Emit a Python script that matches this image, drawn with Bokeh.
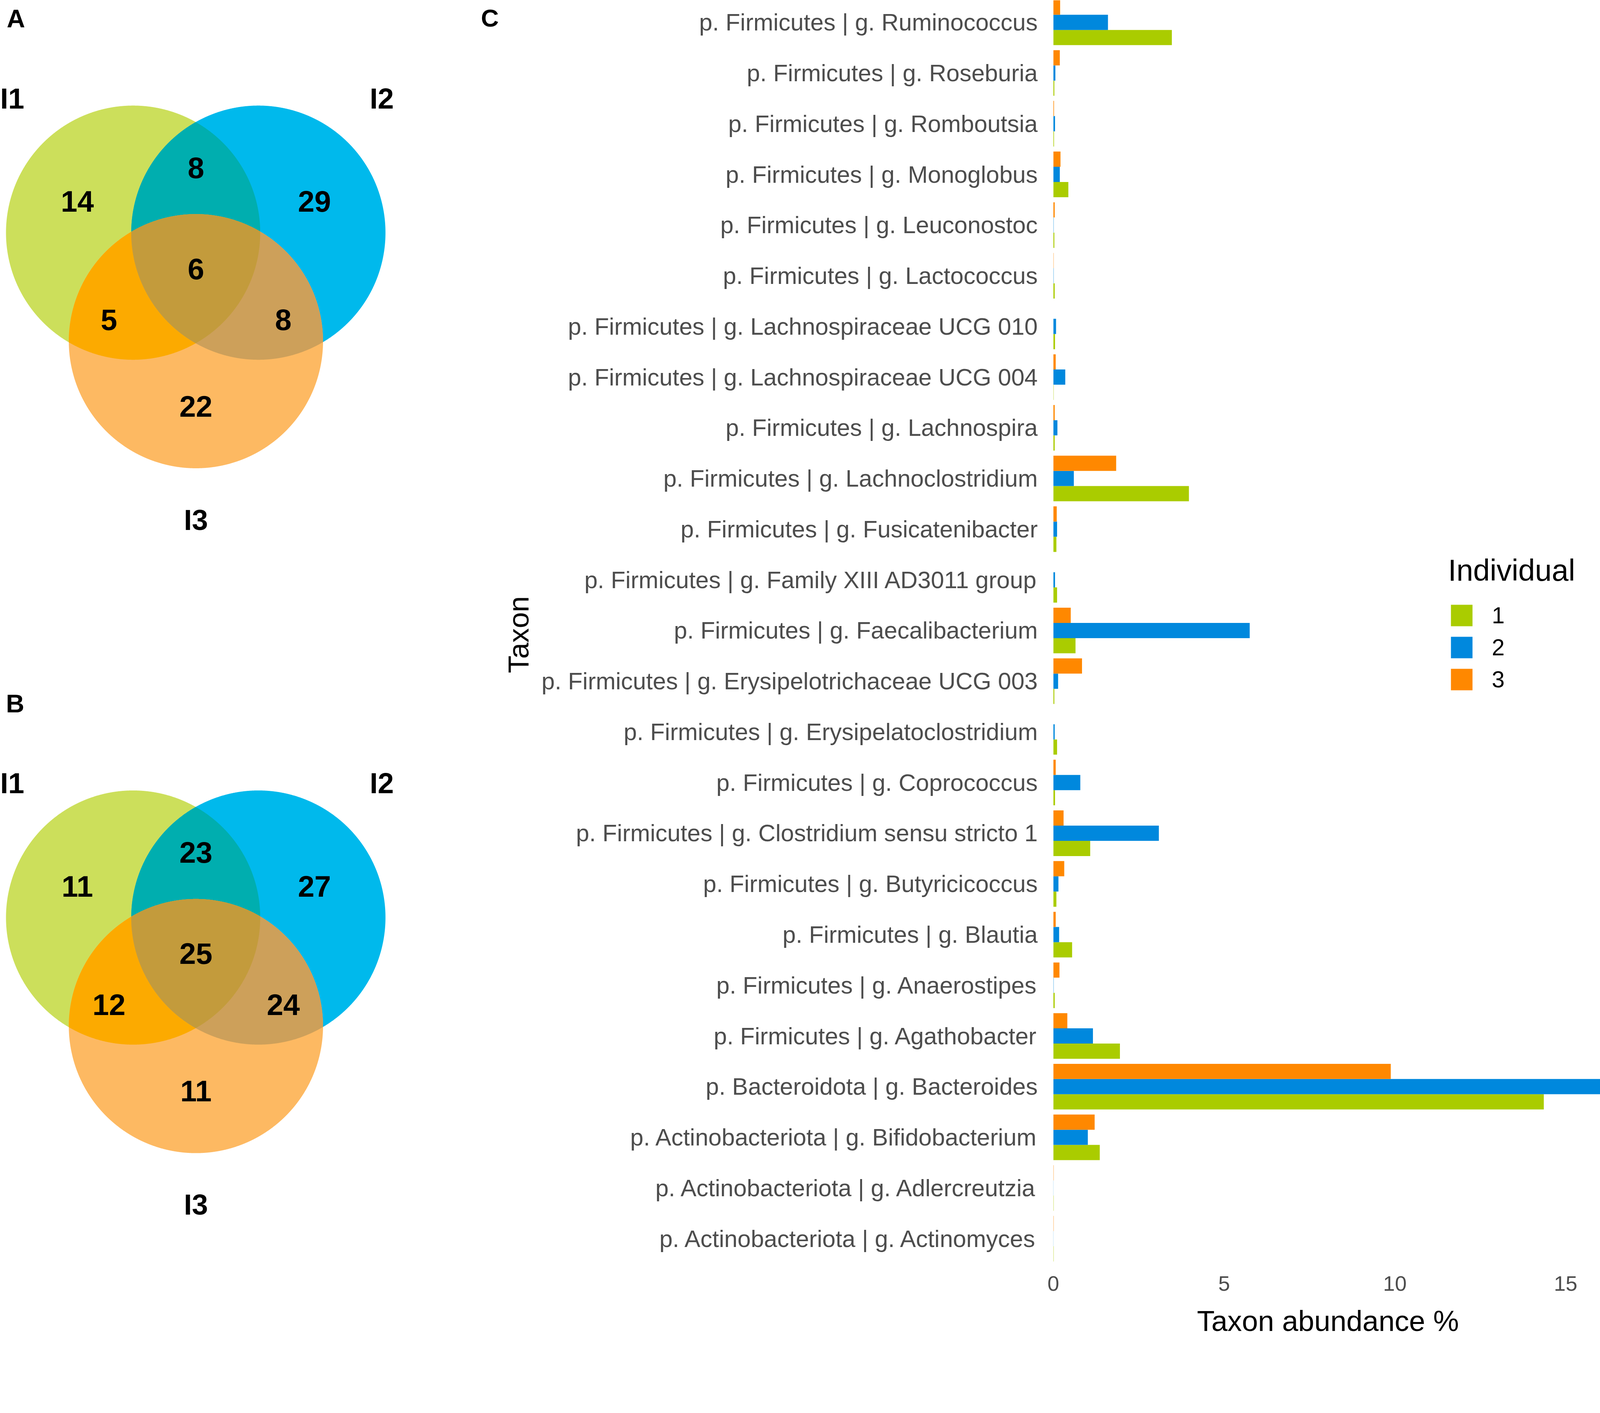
import numpy as np
from bokeh.plotting import figure
from bokeh.models import Range1d, FixedTicker, Legend, LegendItem
from bokeh.layouts import row
from bokeh.embed import file_html
from bokeh.resources import INLINE
from bokeh.core.properties import value

# ---------------- data ----------------
venn_sets = ["I1", "I2", "I3"]
# regions: I1 only, I2 only, I3 only, I1&I2, I1&I3, I2&I3, I1&I2&I3
venn_a_counts = [14, 29, 22, 8, 5, 8, 6]
venn_b_counts = [11, 27, 11, 23, 12, 24, 25]

taxa = [
    "p. Firmicutes | g. Ruminococcus",
    "p. Firmicutes | g. Roseburia",
    "p. Firmicutes | g. Romboutsia",
    "p. Firmicutes | g. Monoglobus",
    "p. Firmicutes | g. Leuconostoc",
    "p. Firmicutes | g. Lactococcus",
    "p. Firmicutes | g. Lachnospiraceae UCG 010",
    "p. Firmicutes | g. Lachnospiraceae UCG 004",
    "p. Firmicutes | g. Lachnospira",
    "p. Firmicutes | g. Lachnoclostridium",
    "p. Firmicutes | g. Fusicatenibacter",
    "p. Firmicutes | g. Family XIII AD3011 group",
    "p. Firmicutes | g. Faecalibacterium",
    "p. Firmicutes | g. Erysipelotrichaceae UCG 003",
    "p. Firmicutes | g. Erysipelatoclostridium",
    "p. Firmicutes | g. Coprococcus",
    "p. Firmicutes | g. Clostridium sensu stricto 1",
    "p. Firmicutes | g. Butyricicoccus",
    "p. Firmicutes | g. Blautia",
    "p. Firmicutes | g. Anaerostipes",
    "p. Firmicutes | g. Agathobacter",
    "p. Bacteroidota | g. Bacteroides",
    "p. Actinobacteriota | g. Bifidobacterium",
    "p. Actinobacteriota | g. Adlercreutzia",
    "p. Actinobacteriota | g. Actinomyces",
]
individual_1 = [3.47, 0.03, 0.02, 0.44, 0.03, 0.04, 0.05, 0.01, 0.04, 3.97, 0.09, 0.11, 0.65,
                0.03, 0.11, 0.05, 1.08, 0.09, 0.55, 0.04, 1.95, 14.36, 1.36, 0.01, 0.01]
individual_2 = [1.60, 0.06, 0.05, 0.19, 0.01, 0.01, 0.08, 0.35, 0.12, 0.60, 0.11, 0.05, 5.75,
                0.14, 0.04, 0.79, 3.09, 0.15, 0.17, 0.01, 1.16, 16.10, 1.01, 0.005, 0.005]
individual_3 = [0.20, 0.19, 0.02, 0.21, 0.04, 0.01, 0.0, 0.07, 0.04, 1.84, 0.10, 0.0, 0.51,
                0.84, 0.0, 0.07, 0.30, 0.32, 0.07, 0.18, 0.41, 9.88, 1.21, 0.01, 0.01]
individual_labels = ["1", "2", "3"]
x_ticks = [0, 5, 10, 15]

FONT = "Liberation Sans"
BAR_COLORS = ["#AACC00", "#0088DD", "#FF8800"]

# page scale (css px per reference px)
K = 0.9515


def px(v):
    return "%dpx" % round(v * K)


FRAME_H = 3249        # plot frame height shared by both panels
BOTTOM = 198          # bottom border (x axis of the bar chart)
H = FRAME_H + BOTTOM

# ---------------- Venn figure (data coords = reference pixels) ----------------
W1 = 1281
venn = figure(width=W1, height=H, x_range=Range1d(8 / K, (8 + W1) / K),
              y_range=Range1d((8 + FRAME_H) / K, 8 / K),
              output_backend="svg", toolbar_location=None,
              min_border_left=0, min_border_right=0, min_border_top=0, min_border_bottom=BOTTOM,
              x_axis_location=None, y_axis_location=None)
venn.grid.visible = False
venn.outline_line_color = None
venn.background_fill_color = "white"

R = 342
centers = [(366, 634), (703, 634), (535, 926)]
region_colors = {
    (0,): "#CCDF5B", (1,): "#00B9EC", (2,): "#FDB962",
    (0, 1): "#00AEAF", (0, 2): "#FCAA00", (1, 2): "#CDA05A", (0, 1, 2): "#C39B3C",
}
region_order = [(0,), (1,), (2,), (0, 1), (0, 2), (1, 2), (0, 1, 2)]
label_pos = [(216, 550), (854, 550), (535, 1101), (535, 459), (301, 868), (770, 868), (535, 731)]
set_label_pos = [(8 / K, 273), (1035, 273), (535, 1407)]
set_label_align = ["left", "center", "center"]


def inter_poly(idx, dy):
    pts = []
    t = np.linspace(0, 2 * np.pi, 2400, endpoint=False)
    for i in idx:
        cx, cy = centers[i]
        cy += dy
        x = cx + R * np.cos(t)
        y = cy + R * np.sin(t)
        mask = np.ones_like(x, dtype=bool)
        for j in idx:
            if j == i:
                continue
            cxj, cyj = centers[j]
            cyj += dy
            mask &= (x - cxj) ** 2 + (y - cyj) ** 2 <= R * R + 1e-6
        pts.append(np.c_[x[mask], y[mask]])
    P = np.vstack(pts)
    c = P.mean(axis=0)
    ang = np.arctan2(P[:, 1] - c[1], P[:, 0] - c[0])
    P = P[np.argsort(ang)]
    return list(P[:, 0]), list(P[:, 1])


def draw_venn(counts, dy, tag, tag_pos):
    xs, ys, cols = [], [], []
    for reg in region_order:
        pxs, pys = inter_poly(reg, dy)
        xs.append(pxs)
        ys.append(pys)
        cols.append(region_colors[reg])
    venn.patches(xs=xs, ys=ys, fill_color=cols, line_color=None)
    venn.text(x=[p[0] for p in label_pos], y=[p[1] + dy for p in label_pos],
              text=[str(c) for c in counts], text_font=value(FONT), text_font_size=px(80),
              text_font_style="bold", text_align="center", text_baseline="middle",
              text_color="black")
    for (sx, sy), name, al in zip(set_label_pos, venn_sets, set_label_align):
        venn.text(x=[sx], y=[sy + dy], text=[name], text_font=value(FONT),
                  text_font_size=px(78), text_font_style="bold", text_align=al,
                  text_baseline="middle", text_color="black")
    venn.text(x=[tag_pos[0]], y=[tag_pos[1]], text=[tag], text_font=value(FONT),
              text_font_size=px(68), text_font_style="bold", text_align="left",
              text_baseline="middle", text_color="black")


draw_venn(venn_a_counts, 0, "A", (26, 58))
draw_venn(venn_b_counts, 1843, "B", (24, 1901))
# panel tag of the bar chart
venn.text(x=[1302], y=[56], text=["C"], text_font=value(FONT), text_font_size=px(66),
          text_font_style="bold", text_align="left", text_baseline="middle", text_color="black")

# ---------------- Bar figure ----------------
n = len(taxa)
ypos = [n - i for i in range(n)]

W2 = 2821
bar = figure(width=W2, height=H, x_range=Range1d(0, 16.08), y_range=Range1d(0.4, 25.437),
             output_backend="svg", toolbar_location=None,
             min_border_left=1415, min_border_right=0, min_border_top=0, min_border_bottom=BOTTOM)
bar.grid.visible = False
bar.outline_line_color = None

renderers = []
series = [individual_1, individual_2, individual_3]
offsets = [-0.3, 0.0, 0.3]
for vals, off, col in zip(series, offsets, BAR_COLORS):
    r = bar.hbar(y=[y + off for y in ypos], right=vals, left=0, height=0.3,
                 fill_color=col, line_color=None)
    renderers.append(r)

xa = bar.xaxis[0]
xa.ticker = FixedTicker(ticks=x_ticks)
xa.axis_line_color = None
xa.major_tick_line_color = None
xa.minor_tick_line_color = None
xa.major_tick_out = 0
xa.major_tick_in = 0
xa.major_label_standoff = 18
xa.major_label_text_font = FONT
xa.major_label_text_font_size = px(57)
xa.major_label_text_color = "#4D4D4D"
xa.axis_label = "Taxon abundance %"
xa.axis_label_text_font = FONT
xa.axis_label_text_font_size = px(78)
xa.axis_label_text_font_style = "normal"
xa.axis_label_text_color = "black"
xa.axis_label_standoff = 33

ya = bar.yaxis[0]
ya.ticker = FixedTicker(ticks=ypos)
ya.major_label_overrides = {y: t for y, t in zip(ypos, taxa)}
ya.axis_line_color = None
ya.major_tick_line_color = None
ya.minor_tick_line_color = None
ya.major_tick_out = 0
ya.major_tick_in = 0
ya.major_label_standoff = 40
ya.major_label_text_font = FONT
ya.major_label_text_font_size = "61px"
ya.major_label_text_color = "#4D4D4D"
ya.axis_label = "Taxon"
ya.axis_label_text_font = FONT
ya.axis_label_text_font_size = px(78)
ya.axis_label_text_font_style = "normal"
ya.axis_label_text_color = "black"
ya.axis_label_standoff = 14

legend = Legend(
    items=[LegendItem(label=lab, renderers=[r]) for lab, r in zip(individual_labels, renderers)],
    location=(round(1063 * K), round(1550 * K)), title="Individual",
)
legend.title_text_font = FONT
legend.title_text_font_size = px(81)
legend.title_text_font_style = "normal"
legend.title_text_color = "black"
legend.title_standoff = round(38 * K)
legend.label_text_font = FONT
legend.label_text_font_size = px(62)
legend.label_text_color = "black"
legend.glyph_width = round(73 * K)
legend.glyph_height = round(73 * K)
legend.label_standoff = round(45 * K)
legend.spacing = round(14 * K)
legend.padding = 0
legend.margin = 0
legend.border_line_color = None
legend.background_fill_alpha = 0
bar.add_layout(legend)

layout = row(venn, bar)
open("out.html", "w").write(file_html(layout, INLINE))
